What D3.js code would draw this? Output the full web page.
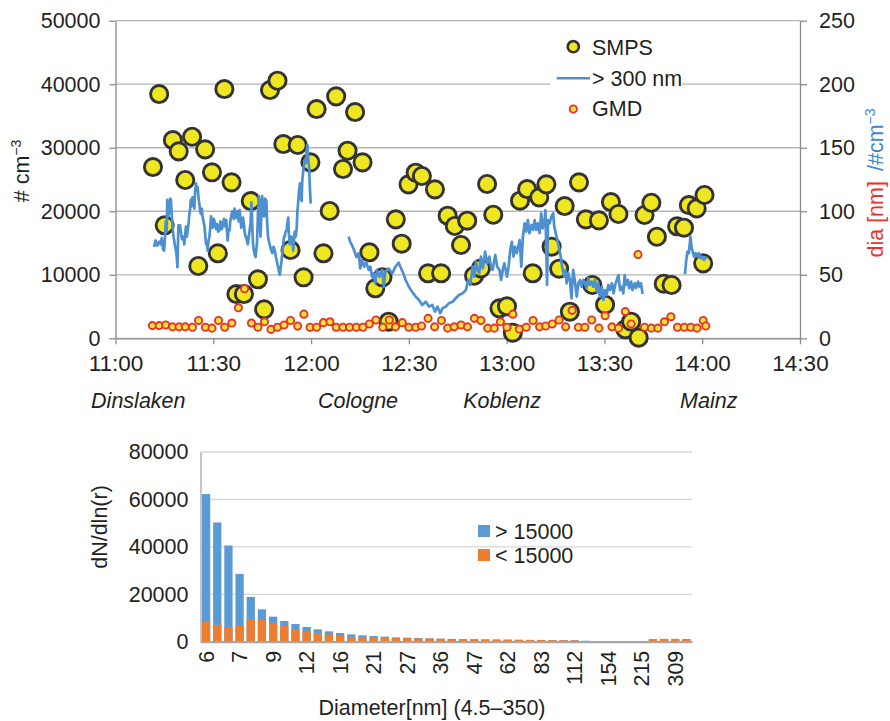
<!DOCTYPE html>
<html>
<head>
<meta charset="utf-8">
<script src="https://cdn.jsdelivr.net/npm/d3@7"></script>
<style>
body { margin: 0; background: #fff; }
svg { font-family: "Liberation Sans", Arial, Helvetica, sans-serif; }
</style>
</head>
<body>
<div class="container"></div>
<script>
// top panel - times are minutes after 11:00
const smpsMin = [11.5, 13.4, 15.1, 17.6, 19.4, 21.4, 23.5, 25.4, 27.5, 29.6, 31.4, 33.4, 35.6, 37.1, 39.4, 41.5, 43.7, 45.6, 47.4, 49.7,
    51.5, 53.7, 55.9, 57.7, 59.8, 61.7, 63.8, 65.7, 67.7, 69.8, 71.2, 73.5, 75.8, 77.9, 79.7, 81.9, 83.8, 86.0, 87.8, 89.9,
    92.1, 94.0, 95.9, 98.0, 99.9, 101.9, 104.1, 106.0, 107.9, 110.0, 112.1, 114.0, 115.9, 117.8, 120.1, 121.9, 124.1, 126.3, 128.0, 130.0,
    132.2, 133.8, 136.1, 137.8, 139.4, 142.2, 144.3, 146.3, 148.3, 150.2, 152.0, 154.3, 156.4, 158.2, 160.5, 162.3, 164.4, 166.1, 168.2, 170.6,
    172.3, 174.4, 175.9, 178.3, 180.3, 180.7];
const smpsVal = [26960, 38450, 17790, 31210, 29430, 24920, 31730, 11380, 29750, 26130, 13380, 39240, 24550, 6970, 6970, 21610, 9290, 4560, 39080, 40550,
    30580, 13900, 30430, 9600, 27700, 36090, 13380, 20040, 38090, 26650, 29530, 35620, 27700, 13540, 7870, 9600, 2610, 18730, 14890, 24240,
    26070, 25550, 10230, 23450, 10230, 19300, 17680, 14690, 18510, 9850, 11000, 24290, 19450, 4720, 5040, 880, 21660, 23500, 10230, 22190,
    24240, 14420, 10960, 20820, 4190, 24550, 18730, 8390, 18570, 5290, 21450, 19570, 1420, 2610, 100, 19410, 21340, 15990, 8590, 8390,
    17630, 17410, 20980, 20460, 11800, 22560];

const gmdMin = [11.3, 13.4, 15.4, 17.5, 19.5, 21.4, 23.6, 25.5, 27.6, 29.6, 31.6, 33.5, 35.7, 37.7, 39.6, 41.7, 43.7, 45.7, 47.7, 49.7,
    51.7, 53.7, 55.9, 57.8, 59.7, 61.7, 63.8, 65.8, 67.7, 69.8, 71.8, 73.9, 75.9, 77.9, 79.9, 82.0, 84.0, 85.9, 88.0, 90.0,
    92.1, 93.9, 95.9, 97.9, 100.0, 101.9, 103.9, 106.0, 108.0, 110.1, 112.1, 114.2, 116.2, 118.1, 120.1, 121.9, 123.9, 126.0, 128.1, 130.1,
    132.0, 134.0, 136.1, 138.1, 140.1, 142.0, 144.0, 146.1, 148.3, 150.2, 152.3, 154.3, 156.4, 158.2, 160.3, 162.3, 164.4, 166.4, 168.4, 170.4,
    172.4, 174.5, 176.5, 178.4, 180.3, 181.1];
const gmdVal = [10, 10, 10.5, 9, 9, 9, 8.7, 14, 8.7, 8, 14, 8.7, 12, 24, 39, 12, 8.7, 13, 7, 8.7,
    10.5, 14, 9.6, 19, 8.7, 8.7, 12.3, 13, 8.7, 8.7, 8.7, 8.7, 8.7, 11.3, 14.4, 8.7, 14.4, 9, 12.3, 8.7,
    8.7, 9.7, 15.7, 9, 14, 8, 9, 10.5, 9, 15.7, 14, 8, 8, 13, 8.7, 19, 7.3, 8.7, 14, 9,
    9.7, 11.3, 14.4, 9, 22, 8.7, 8.7, 14.4, 8, 17.8, 9, 8, 21, 11.3, 66, 8.7, 8, 8, 13, 17,
    8.7, 8.7, 8.7, 8, 14, 9.7];

// > 300 nm counts, three recorded stretches [minute, value]
const over300A = [[11.8,72],[12.3,77],[12.8,73],[13.4,76],[13.8,74],[14.2,79],[14.6,70],[14.9,69],[15.2,80],[15.4,92],[15.7,84],[15.9,109],
    [16.2,96],[16.5,101],[16.8,110],[17.0,109],[17.3,95],[17.5,88],[17.8,80],[18.0,77],[18.3,72],[18.5,70],[18.8,64],[19.0,56],[19.3,89],
    [19.6,84],[19.8,89],[20.1,83],[20.4,78],[20.8,80],[21.1,74],[21.4,82],[21.6,88],[21.9,80],[22.1,84],[22.4,90],[22.6,96],[22.9,102],
    [23.1,109],[23.4,104],[23.6,111],[23.9,106],[24.2,102],[24.4,115],[24.7,122],[25.0,116],[25.2,119],[25.5,110],[25.7,106],[26.0,100],
    [26.2,98],[26.5,102],[26.7,96],[27.0,92],[27.3,88],[27.5,82],[27.8,74],[28.0,76],[28.3,69],[28.5,76],[28.8,80],[29.1,88],[29.3,96],
    [29.6,90],[29.8,87],[30.1,94],[30.3,93],[30.6,88],[30.9,86],[31.2,90],[31.5,84],[31.9,85],[32.2,92],[32.6,86],[32.9,89],[33.3,94],
    [33.6,88],[34.0,93],[34.2,84],[34.4,77],[34.7,86],[35.0,85],[35.2,92],[35.5,96],[35.8,100],[36.0,98],[36.3,94],[36.5,102],[36.8,96],
    [37.0,95],[37.3,100],[37.5,96],[37.8,92],[38.1,101],[38.3,94],[38.6,87],[38.9,92],[39.1,95],[39.4,90],[39.6,84],[39.9,80],[40.1,80],
    [40.4,76],[40.6,74],[40.9,80],[41.1,84],[41.4,90],[41.7,107],[41.9,95],[42.0,85],[42.2,75],[42.4,70],[42.7,66],[43.0,64],[43.2,70],
    [43.4,74],[43.7,98],[44.0,112],[44.2,96],[44.5,80],[44.8,100],[45.0,112],[45.3,104],[45.6,96],[45.9,110],[46.3,108],[46.5,92],[46.8,80],
    [47.1,76],[47.3,74],[47.7,70],[48.1,67],[48.5,72],[48.9,69],[49.2,64],[49.4,62],[49.7,58],[49.9,56],[50.2,52],[50.4,50],[50.7,56],
    [50.9,60],[51.2,68],[51.4,73],[51.7,80],[51.9,80],[52.2,84],[52.5,85],[52.7,90],[53.0,95],[53.2,82],[53.5,74],[53.8,80],[54.0,80],
    [54.3,76],[54.5,69],[54.8,78],[55.0,84],[55.3,80],[55.6,87],[55.8,100],[56.0,106],[56.3,116],[56.6,122],[56.8,112],[57.1,108],[57.3,124],
    [57.6,132],[57.8,136],[58.1,140],[58.4,138],[58.6,146],[58.9,152],[59.1,142],[59.4,135],[59.6,120],[59.9,106]];
const over300B = [[71.5,80],[72.0,76],[72.5,73.5],[73.2,69.5],[73.9,64],[74.6,67],[75.1,55],[75.6,61.7],[76.3,56.4],[76.9,60],[77.7,53.8],
    [78.2,56.4],[78.7,48.5],[79.2,51],[79.7,43.3],[80.2,53.8],[81.0,48.5],[81.8,53.8],[82.3,40.6],[82.8,52.4],[83.8,55],[84.9,51],[85.9,56.4],
    [86.9,59.5],[87.4,56.4],[88.3,51],[89.0,45.9],[90.0,40.6],[91.0,36.7],[92.1,32.8],[93.1,30.2],[94.1,26.2],[95.2,28.8],[96.2,24.9],
    [97.2,26.2],[98.0,21],[98.8,24.9],[99.6,19.7],[100.3,23.6],[101.3,24.9],[102.3,27.6],[103.4,28.8],[104.4,31.5],[105.4,34.1],[106.5,35.4],
    [107.5,38],[108.2,45.9],[108.8,42],[109.6,56.4],[110.1,48.5],[110.6,60.3],[111.1,53.8],[111.6,51.2],[112.1,64.3],[112.7,55],[113.4,68.2],
    [114.0,59],[114.7,64.3],[115.2,56.4],[115.7,53.8],[116.5,65.6],[117.1,56.4],[117.8,53.8],[118.3,45.9],[118.8,53.8],[119.3,59],[120.1,48.5],
    [120.6,56.4],[121.1,69.5],[121.6,76],[122.1,64.3],[122.6,72],[123.1,67],[124.0,77.4],[124.5,56.4],[125.0,80],[125.5,90.5],[126.0,84],
    [126.5,93],[127.0,82.7],[127.6,89.2],[128.1,85.3],[128.6,93],[129.1,85.3],[129.6,90.5],[130.1,82.7],[130.6,98.4],[131.1,86.6],[131.7,94.5],
    [131.9,101],[132.4,42],[132.7,93],[133.2,90.5],[133.7,95.8],[134.3,98.4],[134.6,87.9],[135.3,80],[136.0,72],[136.6,64.3],[137.0,56.4],
    [137.7,48.5],[138.1,53.8],[138.4,43.3],[138.9,51.2],[139.4,45.9],[139.9,31.5],[140.4,53.8],[140.9,45.9],[141.5,32.8],[142.0,43.3],
    [142.5,45.9],[143.0,40.6],[143.5,45.9],[144.0,43.3],[144.5,39.4],[145.1,47.2],[145.6,42],[146.1,44.6],[146.6,40.6],[147.1,45.9],
    [147.6,36.7],[148.1,43.3],[148.6,32.8],[149.2,40.6],[149.7,30.2],[150.2,38],[150.7,34.1],[151.2,42],[151.7,38],[152.3,43.3],[152.8,35.4],
    [153.3,42],[153.8,45.9],[154.3,49.8],[154.8,38],[155.3,40.6],[155.8,35.4],[156.2,49.8],[156.6,42],[157.2,45.9],[157.6,39.4],[158.2,44.6],
    [158.6,38],[159.3,43.3],[159.7,39.4],[160.3,44.6],[160.7,40.6],[161.2,43.3],[161.7,34.9]];
const over300C = [[174.7,50.6],[175.1,61.7],[175.5,68.2],[175.9,67],[176.4,80],[176.7,72],[177.2,67],[177.5,64.3],[178.0,67],[178.5,64.3],
    [179.0,67],[179.5,63],[180.0,64.3],[180.5,61.7],[181.0,63.7],[181.5,63]];

const places = ["Dinslaken", "Cologne", "Koblenz", "Mainz"];
const placeAt = [7, 74.4, 118.6, 182];

// bottom panel - size distribution
const diaLabels = ["6","6.3","6.7","7","7.6","8.3","9","10","11","12","13","14.5","16","17","19","21","23","25","27","30","33","36",
    "39","43","47","51","56","62","68","75","83","91","101","112","124","138","154","170","191","215","241","274","309","350"];
const above15000 = [62250, 50280, 40560, 28590, 18870, 13660, 10560, 8730, 7460, 6200, 5210, 4370, 3660, 3100, 2680, 2390, 2110, 1830,
    1690, 1550, 1420, 1300, 1200, 1120, 1050, 980, 920, 870, 820, 780, 740, 700, 660, 620, 400, 300, 250, 200, 160, 150, 950, 950, 950, 950];
const below15000 = [8450, 7180, 6200, 6620, 9440, 9300, 7890, 6620, 5350, 4370, 3660, 3100, 2540, 1970, 1830, 1690, 1600, 1550,
    1500, 1400, 1300, 1200, 1100, 1020, 950, 900, 850, 800, 760, 720, 690, 650, 610, 570, 250, 150, 100, 80, 60, 60, 1150, 1200, 1200, 1150];

const textCol = "#231f20";
const fs = 21.5;
const t0 = new Date(2000, 0, 1, 11, 0);
const toTime = m => new Date(t0.getTime() + m * 60000);

const svg = d3.select(".container")
    .append("svg")
    .attr("width", 890)
    .attr("height", 721);

// ---------- top chart ----------
function drawTimeChart() {
    const pane = {left: 115.5, right: 800, top: 20.7, bottom: 338.3};

    const x = d3.scaleTime()
        .domain([toTime(0), toTime(210)])
        .range([pane.left, pane.right]);
    const yL = d3.scaleLinear().domain([0, 50000]).range([pane.bottom, pane.top]);
    const yR = d3.scaleLinear().domain([0, 250]).range([pane.bottom, pane.top]);

    // grid
    svg.append("g")
        .selectAll("line")
        .data(yL.ticks(5))
        .join("line")
        .attr("x1", pane.left)
        .attr("x2", pane.right)
        .attr("y1", d => yL(d))
        .attr("y2", d => yL(d))
        .attr("stroke", "#b5b5b5")
        .attr("stroke-width", 1.3);

    const gl = svg.append("g")
        .attr("transform", `translate(${pane.left},0)`)
        .call(d3.axisLeft(yL).ticks(5).tickFormat(d3.format("d")).tickSize(6).tickSizeOuter(0).tickPadding(9));
    const gr = svg.append("g")
        .attr("transform", `translate(${pane.right},0)`)
        .call(d3.axisRight(yR).ticks(5).tickSize(7).tickSizeOuter(0).tickPadding(12));
    const gx = svg.append("g")
        .attr("transform", `translate(0,${pane.bottom})`)
        .call(d3.axisBottom(x)
            .ticks(d3.timeMinute.every(30))
            .tickFormat(d3.timeFormat("%H:%M"))
            .tickSize(6).tickSizeOuter(0).tickPadding(11));

    [gl, gr, gx].forEach(g => {
        g.select(".domain").attr("stroke", "#8c8c8c").attr("stroke-width", 1.3);
        g.selectAll(".tick line").attr("stroke", "#8c8c8c").attr("stroke-width", 1.3);
        g.selectAll("text").attr("font-size", fs).attr("fill", textCol).attr("font-family", null);
    });
    gx.selectAll("text").attr("font-size", 22.5);

    // SMPS
    svg.append("g")
        .selectAll("circle")
        .data(smpsMin)
        .join("circle")
        .attr("cx", d => x(toTime(d)))
        .attr("cy", (d, i) => yL(smpsVal[i]))
        .attr("r", 8.6)
        .attr("fill", "#eee61f")
        .attr("stroke", "#333")
        .attr("stroke-width", 2.9);

    // > 300 nm line
    const line = d3.line()
        .x(d => x(toTime(d[0])))
        .y(d => yR(d[1]));
    svg.append("g")
        .selectAll("path")
        .data([over300A, over300B, over300C])
        .join("path")
        .attr("d", line)
        .attr("fill", "none")
        .attr("stroke", "#4d90d2")
        .attr("stroke-width", 2.7)
        .attr("stroke-linejoin", "round");

    // GMD
    svg.append("g")
        .selectAll("circle")
        .data(gmdMin)
        .join("circle")
        .attr("cx", d => x(toTime(d)))
        .attr("cy", (d, i) => yR(gmdVal[i]))
        .attr("r", 3.6)
        .attr("fill", "#f3e43c")
        .attr("stroke", "#e9322b")
        .attr("stroke-width", 1.9);

    // legend
    const lg = svg.append("g");
    lg.append("rect").attr("x", 550).attr("y", 28).attr("width", 132).attr("height", 96).attr("fill", "#fff");
    lg.append("circle").attr("cx", 573.3).attr("cy", 46.7).attr("r", 5.6)
        .attr("fill", "#eee61f").attr("stroke", "#333").attr("stroke-width", 2.6);
    lg.append("line").attr("x1", 556.7).attr("x2", 590).attr("y1", 78.3).attr("y2", 78.3)
        .attr("stroke", "#4d90d2").attr("stroke-width", 2.5);
    lg.append("circle").attr("cx", 573.3).attr("cy", 109).attr("r", 3.6)
        .attr("fill", "#f3e43c").attr("stroke", "#e9322b").attr("stroke-width", 1.9);
    lg.selectAll("text")
        .data(["SMPS", "> 300 nm", "GMD"])
        .join("text")
        .attr("x", 592)
        .attr("y", (d, i) => [54.5, 85.5, 116][i])
        .attr("font-size", fs)
        .attr("fill", textCol)
        .text(d => d);

    // left axis title
    const tl = svg.append("text")
        .attr("transform", "translate(21,171) rotate(-90)")
        .attr("text-anchor", "middle")
        .attr("dy", "0.35em")
        .attr("font-size", fs)
        .attr("fill", textCol);
    tl.append("tspan").text("# cm");
    tl.append("tspan").attr("dy", -8).attr("font-size", 14).text("\u22123");

    // right axis title
    const tr = svg.append("text")
        .attr("transform", "translate(875.5,183) rotate(-90)")
        .attr("text-anchor", "middle")
        .attr("dy", "0.35em")
        .attr("font-size", fs);
    tr.append("tspan").attr("fill", "#e9322b").text("dia [nm]");
    tr.append("tspan").attr("fill", "#3f87cf").attr("dx", 10).text("/#cm");
    tr.append("tspan").attr("fill", "#3f87cf").attr("dy", -8).attr("font-size", 14).text("\u22123");

    // place names
    svg.append("g")
        .selectAll("text")
        .data(places)
        .join("text")
        .attr("x", (d, i) => x(toTime(placeAt[i])))
        .attr("y", 408)
        .attr("text-anchor", "middle")
        .attr("font-size", fs)
        .attr("font-style", "italic")
        .attr("fill", textCol)
        .text(d => d);
}

// ---------- bottom chart ----------
function drawSizeChart() {
    const pane = {left: 200.5, right: 692, top: 452, bottom: 641.7};

    const xb = d3.scaleBand()
        .domain(d3.range(diaLabels.length))
        .range([pane.left, pane.right])
        .paddingInner(0.26)
        .paddingOuter(0.13);
    const y = d3.scaleLinear().domain([0, 80000]).range([pane.bottom, pane.top]);

    svg.append("g")
        .selectAll("line")
        .data(y.ticks(4))
        .join("line")
        .attr("x1", pane.left)
        .attr("x2", pane.right)
        .attr("y1", d => y(d))
        .attr("y2", d => y(d))
        .attr("stroke", "#d6d6d6")
        .attr("stroke-width", 1.3);

    const gy = svg.append("g")
        .attr("transform", `translate(${pane.left},0)`)
        .call(d3.axisLeft(y).ticks(4).tickFormat(d3.format("d")).tickSize(0).tickPadding(12));
    gy.select(".domain").attr("stroke", "#b3b3b3").attr("stroke-width", 1.5);
    gy.selectAll("text").attr("font-size", fs).attr("fill", textCol).attr("font-family", null);

    svg.append("g")
        .selectAll("rect")
        .data(above15000)
        .join("rect")
        .attr("x", (d, i) => xb(i))
        .attr("y", d => y(d))
        .attr("width", xb.bandwidth())
        .attr("height", d => y(0) - y(d))
        .attr("fill", "#5b9bd5");

    svg.append("g")
        .selectAll("rect")
        .data(below15000)
        .join("rect")
        .attr("x", (d, i) => xb(i))
        .attr("y", d => y(d))
        .attr("width", xb.bandwidth())
        .attr("height", d => y(0) - y(d))
        .attr("fill", "#ed7d31");

    // axis line, then vertical labels every third channel
    const gx = svg.append("g")
        .attr("transform", `translate(0,${pane.bottom})`)
        .call(d3.axisBottom(xb).tickValues([]).tickSize(0).tickSizeOuter(0));
    gx.select(".domain").attr("stroke", "#a6a6a6").attr("stroke-width", 2.2);

    svg.append("g")
        .selectAll("text")
        .data(d3.range(0, diaLabels.length, 3))
        .join("text")
        .attr("transform", i => `translate(${xb(i) + xb.bandwidth() / 2},${pane.bottom + 9}) rotate(-90)`)
        .attr("dy", "0.35em")
        .attr("text-anchor", "end")
        .attr("font-size", fs)
        .attr("fill", textCol)
        .text(i => diaLabels[i]);

    svg.append("text")
        .attr("x", 432)
        .attr("y", 715)
        .attr("text-anchor", "middle")
        .attr("font-size", fs)
        .attr("fill", textCol)
        .text("Diameter[nm] (4.5\u2013350)");

    svg.append("text")
        .attr("transform", "translate(99,527) rotate(-90)")
        .attr("text-anchor", "middle")
        .attr("dy", "0.35em")
        .attr("font-size", fs)
        .attr("fill", textCol)
        .text("dN/dln(r)");

    // legend
    const keys = ["> 15000", "< 15000"];
    const cols = ["#5b9bd5", "#ed7d31"];
    const lg = svg.append("g");
    lg.selectAll("rect")
        .data(keys)
        .join("rect")
        .attr("x", 478)
        .attr("y", (d, i) => 525 + i * 24)
        .attr("width", 12)
        .attr("height", 12)
        .attr("fill", (d, i) => cols[i]);
    lg.selectAll("text")
        .data(keys)
        .join("text")
        .attr("x", 495)
        .attr("y", (d, i) => 538.5 + i * 24)
        .attr("font-size", fs)
        .attr("fill", textCol)
        .text(d => d);
}

drawTimeChart();
drawSizeChart();
</script>
</body>
</html>
